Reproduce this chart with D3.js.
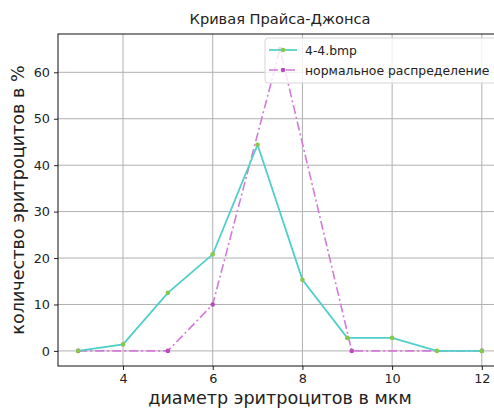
<!DOCTYPE html>
<html><head><meta charset="utf-8">
<script src="https://cdn.jsdelivr.net/npm/d3@7"></script>
<style>body{margin:0;background:#fff;overflow:hidden}svg{display:block;font-family:"DejaVu Sans",sans-serif}</style>
</head><body><svg id="c" width="494" height="408"></svg>
<script>
const seriesNames = ["4-4.bmp", "нормальное распределение"];
const sampleX = [3, 4, 5, 6, 7, 8, 9, 10, 11, 12];
const sampleY = [0, 1.4, 12.5, 20.8, 44.4, 15.3, 2.8, 2.8, 0, 0];
const normalX = [3, 5, 6, 7.5, 9.1, 12];
const normalY = [0, 0, 10, 65, 0, 0];
const xTicks = [4, 6, 8, 10, 12];
const yTicks = [0, 10, 20, 30, 40, 50, 60];
const titleText = "Кривая Прайса-Джонса";
const xLabel = "диаметр эритроцитов в мкм";
const yLabel = "количество эритроцитов в %";

const svg = d3.select("#c");
const L = 58, T = 34, R = 502, B = 366;
const x = d3.scaleLinear().domain([2.55, 12.45]).range([L, R]);
const y = d3.scaleLinear().domain([-3.25, 68.25]).range([B, T]);

const g = svg.append("g");
g.selectAll(".gx").data(xTicks).join("line")
  .attr("x1", d => x(d)).attr("x2", d => x(d)).attr("y1", T).attr("y2", B)
  .attr("stroke", "#b0b0b0").attr("stroke-width", 1);
g.selectAll(".gy").data(yTicks).join("line")
  .attr("x1", L).attr("x2", R).attr("y1", d => y(d)).attr("y2", d => y(d))
  .attr("stroke", "#b0b0b0").attr("stroke-width", 1);

const xa = svg.append("g").attr("transform", `translate(0,${B})`)
  .call(d3.axisBottom(x).tickValues(xTicks).tickSize(4).tickPadding(4).tickFormat(d3.format("d")));
const ya = svg.append("g").attr("transform", `translate(${L},0)`)
  .call(d3.axisLeft(y).tickValues(yTicks).tickSize(4).tickPadding(4).tickFormat(d3.format("d")));
[xa, ya].forEach(a => {
  a.select(".domain").remove();
  a.selectAll("text").attr("font-size", 12.8).attr("fill", "#222").attr("font-family", "DejaVu Sans");
  a.selectAll("line").attr("stroke", "#222");
});
svg.append("rect").attr("x", L).attr("y", T).attr("width", R - L).attr("height", B - T)
  .attr("fill", "none").attr("stroke", "#111").attr("stroke-width", 1);

const line = d3.line().x(d => x(d[0])).y(d => y(d[1]));
const sData = sampleX.map((v, i) => [v, sampleY[i]]);
const nData = normalX.map((v, i) => [v, normalY[i]]);
svg.append("path").datum(nData).attr("d", line).attr("fill", "none")
  .attr("stroke", "#d37ad8").attr("stroke-width", 1.6).attr("stroke-dasharray", "9,3,2,3");
svg.selectAll(".nm").data(nData).join("circle").attr("cx", d => x(d[0])).attr("cy", d => y(d[1]))
  .attr("r", 2.3).attr("fill", "#b94bbd");
svg.append("path").datum(sData).attr("d", line).attr("fill", "none")
  .attr("stroke", "#4fcfca").attr("stroke-width", 1.8);
svg.selectAll(".sm").data(sData).join("circle").attr("cx", d => x(d[0])).attr("cy", d => y(d[1]))
  .attr("r", 2.3).attr("fill", "#86c84a");

const lg = svg.append("g");
lg.append("rect").attr("x", 265).attr("y", 38).attr("width", 232).attr("height", 45).attr("rx", 3)
  .attr("fill", "rgba(255,255,255,0.8)").attr("stroke", "#d6d6d6");
const items = [
  {name: seriesNames[0], stroke: "#4fcfca", dash: null, mk: "#86c84a"},
  {name: seriesNames[1], stroke: "#d37ad8", dash: "9,3,2,3", mk: "#b94bbd"}
];
items.forEach((it, i) => {
  const yy = 50 + i * 20;
  lg.append("line").attr("x1", 269).attr("x2", 297).attr("y1", yy).attr("y2", yy)
    .attr("stroke", it.stroke).attr("stroke-width", 1.7).attr("stroke-dasharray", it.dash);
  lg.append("circle").attr("cx", 283).attr("cy", yy).attr("r", 2.3).attr("fill", it.mk);
  lg.append("text").attr("x", 305).attr("y", yy + 4.5).attr("font-size", 12.4).attr("fill", "#222").text(it.name);
});

svg.append("text").attr("x", 280).attr("y", 24).attr("text-anchor", "middle")
  .attr("font-size", 14.6).attr("fill", "#222").text(titleText);
svg.append("text").attr("x", 280).attr("y", 404).attr("text-anchor", "middle")
  .attr("font-size", 17.6).attr("fill", "#222").text(xLabel);
svg.append("text").attr("transform", `translate(24,200) rotate(-90)`).attr("text-anchor", "middle")
  .attr("font-size", 17.6).attr("fill", "#222").text(yLabel);
</script></body></html>
